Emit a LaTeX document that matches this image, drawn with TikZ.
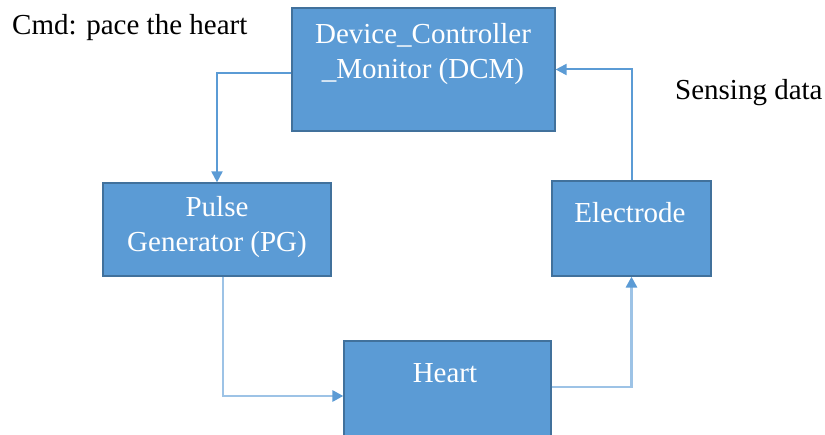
\documentclass[tikz,border=0pt]{standalone}
\usepackage{fontspec}
\setmainfont{Liberation Serif}
\usepackage{xcolor}
\usepackage{tikz}
\usetikzlibrary{arrows.meta,positioning}

\definecolor{boxblue}{HTML}{5B9BD5}
\definecolor{boxedge}{HTML}{41719C}
\definecolor{paleline}{HTML}{9DC3E6}

\begin{document}
\begin{tikzpicture}[
    x=1pt, y=-1pt,
    block/.style={rectangle, draw=boxedge, line width=1.2pt, fill=boxblue},
    btext/.style={text=white, align=center, font=\rmfamily\fontsize{29}{35}\selectfont, inner sep=0pt},
    note/.style={font=\rmfamily\fontsize{29}{35}\selectfont, inner sep=0pt, anchor=west},
    link/.style={draw=boxblue, line width=2pt, -{Triangle[length=11pt,width=11pt]}},
    softlink/.style={link, draw=paleline, line width=2.8pt, -{Triangle[length=11pt,width=11pt,color=boxblue]}},
]
    \clip (0,0) rectangle (825,435);
    \node[block, minimum width=263pt, minimum height=123pt] (dcm) at (423.5,69.5) {};
    \node[block, minimum width=228pt, minimum height=93pt] (pg) at (217,229.5) {};
    \node[block, minimum width=159pt, minimum height=95pt] (el) at (631.5,228.5) {};
    \node[block, minimum width=207pt, minimum height=110pt] (ht) at (447.5,396) {};

    \node[btext] (dcmtxt) at (423,54) {Device\_Controller\\\_Monitor (DCM)};
    \node[btext] (pgtxt) at (217,227) {Pulse\\Generator (PG)};
    \node[btext] (eltxt) at (630,213) {Electrode};
    \node[btext] (httxt) at (445,373) {Heart};

    \node[note] (cmd) at (12,28) {Cmd: pace the heart};
    \node[note] (sense) at (675,93) {Sensing data};

    \draw[link] ([yshift=-4pt]dcm.west) -| (pg.north);
    \draw[softlink] ([xshift=6pt]pg.south) |- (ht.west);
    \draw[softlink] ([yshift=9pt]ht.east) -| (el.south);
    \draw[link] (el.north) |- (dcm.east);
\end{tikzpicture}
\end{document}
